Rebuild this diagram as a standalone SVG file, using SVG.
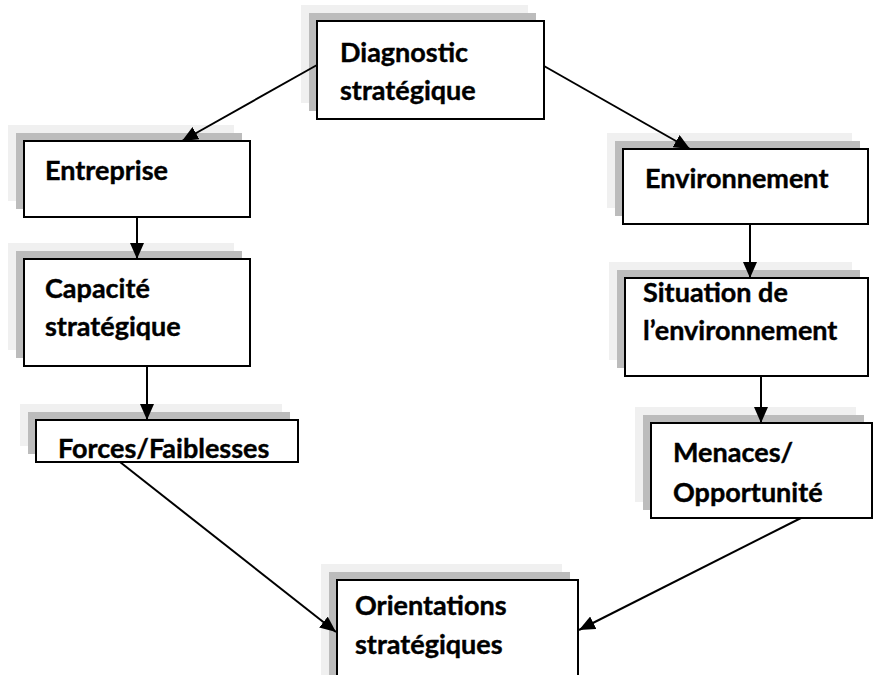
<svg xmlns="http://www.w3.org/2000/svg" width="878" height="675" viewBox="0 0 878 675">
  <defs>
    <marker id="arrow" viewBox="0 0 16 14" refX="16" refY="7" markerWidth="16" markerHeight="14" markerUnits="userSpaceOnUse" orient="auto">
      <path d="M0,0 L16,7 L0,14 Z" fill="#000"/>
    </marker>
  </defs>
  <style>
    .sh1 { fill: #f0f0f0; }
    .sh2 { fill: #bcbcbc; }
    .box { fill: #fff; stroke: #000; stroke-width: 2; }
    .lbl { font-family: Lato, "Open Sans", "Liberation Sans", sans-serif; font-weight: bold; font-size: 27px; fill: #000; stroke: #000; stroke-width: 0.4; }
    .edge { stroke: #000; stroke-width: 2; fill: none; marker-end: url(#arrow); }
  </style>
  <rect width="878" height="675" fill="#fff"/>

  <g id="diagnostic">
    <rect class="sh1" x="301" y="5" width="227" height="98"/>
    <rect class="sh2" x="309" y="13" width="227" height="98"/>
    <rect class="box" x="317" y="21" width="227" height="98"/>
    <text class="lbl" x="340" y="62">Diagnostic</text>
    <text class="lbl" x="340" y="100">stratégique</text>
  </g>

  <g id="entreprise">
    <rect class="sh1" x="8" y="125" width="226" height="76"/>
    <rect class="sh2" x="16" y="133" width="226" height="76"/>
    <rect class="box" x="24" y="141" width="226" height="76"/>
    <text class="lbl" x="45" y="180">Entreprise</text>
  </g>

  <g id="capacite">
    <rect class="sh1" x="8" y="243" width="226" height="107"/>
    <rect class="sh2" x="16" y="251" width="226" height="107"/>
    <rect class="box" x="24" y="259" width="226" height="107"/>
    <text class="lbl" x="45" y="298">Capacité</text>
    <text class="lbl" x="45" y="336">stratégique</text>
  </g>

  <g id="forces">
    <rect class="sh1" x="20" y="404" width="262" height="42"/>
    <rect class="sh2" x="28" y="412" width="262" height="42"/>
    <rect class="box" x="36" y="420" width="262" height="42"/>
    <text class="lbl" x="58" y="458">Forces/Faiblesses</text>
  </g>

  <g id="environnement">
    <rect class="sh1" x="607" y="133" width="245" height="75"/>
    <rect class="sh2" x="615" y="141" width="245" height="75"/>
    <rect class="box" x="623" y="149" width="245" height="75"/>
    <text class="lbl" x="645" y="188">Environnement</text>
  </g>

  <g id="situation">
    <rect class="sh1" x="609" y="262" width="243" height="98"/>
    <rect class="sh2" x="617" y="270" width="243" height="98"/>
    <rect class="box" x="625" y="278" width="243" height="98"/>
    <text class="lbl" x="643" y="302">Situation de</text>
    <text class="lbl" x="643" y="340">l’environnement</text>
  </g>

  <g id="menaces">
    <rect class="sh1" x="635" y="407" width="221" height="95"/>
    <rect class="sh2" x="643" y="415" width="221" height="95"/>
    <rect class="box" x="651" y="423" width="221" height="95"/>
    <text class="lbl" x="673" y="462">Menaces/</text>
    <text class="lbl" x="673" y="502">Opportunité</text>
  </g>

  <g id="orientations">
    <rect class="sh1" x="321" y="564" width="241" height="120"/>
    <rect class="sh2" x="329" y="572" width="241" height="120"/>
    <rect class="box" x="337" y="580" width="241" height="120"/>
    <text class="lbl" x="355" y="615">Orientations</text>
    <text class="lbl" x="355" y="654">stratégiques</text>
  </g>

  <!-- connectors, drawn over the box shadows -->
  <g id="connectors">
    <line class="edge" x1="317" y1="65" x2="182" y2="141"/>
    <line class="edge" x1="544" y1="66" x2="690" y2="149"/>
    <line class="edge" x1="137" y1="217" x2="137" y2="259"/>
    <line class="edge" x1="147" y1="366" x2="147" y2="420"/>
    <line class="edge" x1="750" y1="224" x2="750" y2="278"/>
    <line class="edge" x1="761" y1="376" x2="761" y2="423"/>
    <line class="edge" x1="120" y1="462" x2="336" y2="632"/>
    <line class="edge" x1="801" y1="518" x2="579" y2="630"/>
  </g>
</svg>
